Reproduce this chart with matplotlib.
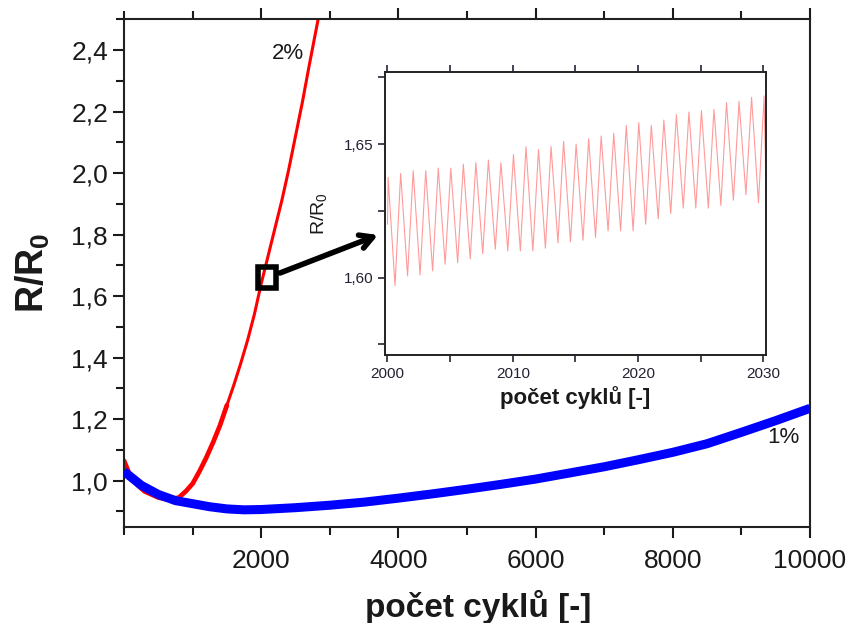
import matplotlib
matplotlib.use("Agg")
import matplotlib.pyplot as plt
from matplotlib.patches import Rectangle
from matplotlib.ticker import MultipleLocator, FixedLocator, FuncFormatter

plt.rcParams["font.family"] = ["Liberation Sans", "DejaVu Sans"]
plt.rcParams["mathtext.fontset"] = "custom"
plt.rcParams["mathtext.rm"] = "Liberation Sans"
plt.rcParams["mathtext.bf"] = "Liberation Sans:bold"

# 2 % sample, R/R0 vs cycles
red_cycles = [0, 100, 200, 300, 400, 500, 600, 700, 800, 900, 1000, 1100, 1200,
              1300, 1400, 1500, 1600, 1700, 1800, 1900, 2000, 2100, 2200, 2300,
              2400, 2500, 2600, 2700, 2830]
red_ratio = [1.065, 1.01, 0.985, 0.965, 0.955, 0.945, 0.94, 0.94, 0.945, 0.965,
             0.99, 1.03, 1.075, 1.125, 1.18, 1.245, 1.31, 1.38, 1.455, 1.54,
             1.64, 1.73, 1.82, 1.91, 2.01, 2.12, 2.23, 2.35, 2.50]

# 1 % sample
blue_cycles = [0, 250, 500, 750, 1000, 1250, 1500, 1750, 2000, 2500, 3000, 3500,
               4000, 4500, 5000, 5500, 6000, 6500, 7000, 7500, 8000, 8500, 9000,
               9500, 10000]
blue_ratio = [1.03, 0.985, 0.955, 0.935, 0.925, 0.915, 0.908, 0.905, 0.906,
              0.912, 0.92, 0.93, 0.943, 0.957, 0.972, 0.988, 1.005, 1.025, 1.045,
              1.068, 1.092, 1.12, 1.157, 1.195, 1.235]

# inset: single cycles 2000-2030, peak and trough of each cycle
inset_cycles = list(range(2000, 2031))
inset_peaks = [1.6375, 1.639, 1.640, 1.640, 1.641, 1.641, 1.6425, 1.643, 1.644,
               1.643, 1.646, 1.649, 1.648, 1.649, 1.651, 1.650, 1.652, 1.653,
               1.654, 1.657, 1.658, 1.657, 1.659, 1.661, 1.662, 1.6625, 1.663,
               1.6655, 1.666, 1.6675, 1.668]
inset_troughs = [1.597, 1.6006, 1.601, 1.6025, 1.605, 1.6056, 1.607, 1.609,
                 1.6106, 1.610, 1.610, 1.610, 1.611, 1.613, 1.6134, 1.614, 1.615,
                 1.6175, 1.6175, 1.6175, 1.620, 1.622, 1.624, 1.626, 1.626, 1.626,
                 1.627, 1.629, 1.631, 1.628]
inset_start = 1.620
inset_end = 1.633

txt = "#1a1a1a"

fig = plt.figure(figsize=(8.51, 6.23), dpi=100)
ax = fig.add_axes([0.1457, 0.1545, 0.8061, 0.8145])

# thicker, noisier part of the red curve at the beginning
split = red_cycles.index(1500)
ax.plot(red_cycles[:split + 1], red_ratio[:split + 1], color="#ff0000", lw=3.4, zorder=2,
        solid_capstyle="round")
ax.plot(red_cycles[split:], red_ratio[split:], color="#ff0000", lw=2.2, zorder=2)
ax.plot(blue_cycles, blue_ratio, color="#0000ff", lw=6.5, zorder=3,
        solid_capstyle="butt")

ax.set_xlim(0, 10000)
ax.set_ylim(0.85, 2.5)
ax.xaxis.set_major_locator(FixedLocator([2000, 4000, 6000, 8000, 10000]))
ax.xaxis.set_minor_locator(MultipleLocator(1000))
ax.yaxis.set_major_locator(MultipleLocator(0.2))
ax.yaxis.set_minor_locator(MultipleLocator(0.1))
ax.yaxis.set_major_formatter(FuncFormatter(lambda v, p: f"{v:.1f}".replace(".", ",")))
ax.tick_params(which="both", direction="out", top=True, right=False, width=1.5,
               colors=txt, labelsize=19)
ax.tick_params(which="major", length=8)
ax.tick_params(which="minor", length=6)
ax.tick_params(axis="x", which="major", pad=8)
for s in ax.spines.values():
    s.set_linewidth(1.5)
    s.set_color("#222222")

ax.set_xlabel("počet cyklů [-]", fontsize=24, fontweight="bold", color=txt)
ax.xaxis.set_label_coords(0.516, -0.125)
ax.set_ylabel(r"$\mathbf{R/R_0}$", fontsize=27, color=txt, labelpad=14)

ax.text(2395, 2.388, "2%", fontsize=16, color=txt, ha="center", va="center")
ax.text(9610, 1.139, "1%", fontsize=16, color=txt, ha="center", va="center")

# marker box around the zoomed region
ax.add_patch(Rectangle((1960, 1.625), 260, 0.07, fill=False, edgecolor="black",
                       lw=4, zorder=5))

# inset
ins = fig.add_axes([0.4524, 0.4302, 0.4477, 0.4543])
ix, iy = [], []
ix.append(2000)
iy.append(inset_start)
for i, c in enumerate(inset_cycles):
    ix.append(c + 0.05)
    iy.append(inset_peaks[i])
    if i < len(inset_troughs):
        ix.append(c + 0.6)
        iy.append(inset_troughs[i])
ix.append(2030.2)
iy.append(inset_end)
ins.plot(ix, iy, color="#ff7070", lw=0.8, alpha=0.7)
ins.set_xlim(1999.8, 2030.2)
ins.set_ylim(1.571, 1.677)
ins.xaxis.set_major_locator(MultipleLocator(10))
ins.xaxis.set_minor_locator(MultipleLocator(5))
ins.yaxis.set_major_locator(FixedLocator([1.60, 1.65]))
ins.yaxis.set_minor_locator(FixedLocator([1.575, 1.625, 1.675]))
ins.yaxis.set_major_formatter(FuncFormatter(lambda v, p: f"{v:.2f}".replace(".", ",")))
ins.tick_params(which="both", direction="out", top=True, right=False, width=1.2,
                length=5, colors="#222233", labelsize=11)
for s in ins.spines.values():
    s.set_linewidth(1.4)
    s.set_color("#222222")
ins.set_xlabel("počet cyklů [-]", fontsize=16, fontweight="bold", color=txt, labelpad=4)
ins.set_ylabel(r"R/R$_0$", fontsize=14, color=txt, labelpad=10)

# arrow from the box to the inset
ax.annotate("", xy=(0.4442, 0.6228), xycoords="figure fraction",
            xytext=(0.329, 0.5618), textcoords="figure fraction",
            arrowprops=dict(arrowstyle="->,head_length=0.9,head_width=0.5",
                            color="black", lw=4, shrinkA=0, shrinkB=0),
            zorder=6)

fig.savefig("out.png", dpi=100)
